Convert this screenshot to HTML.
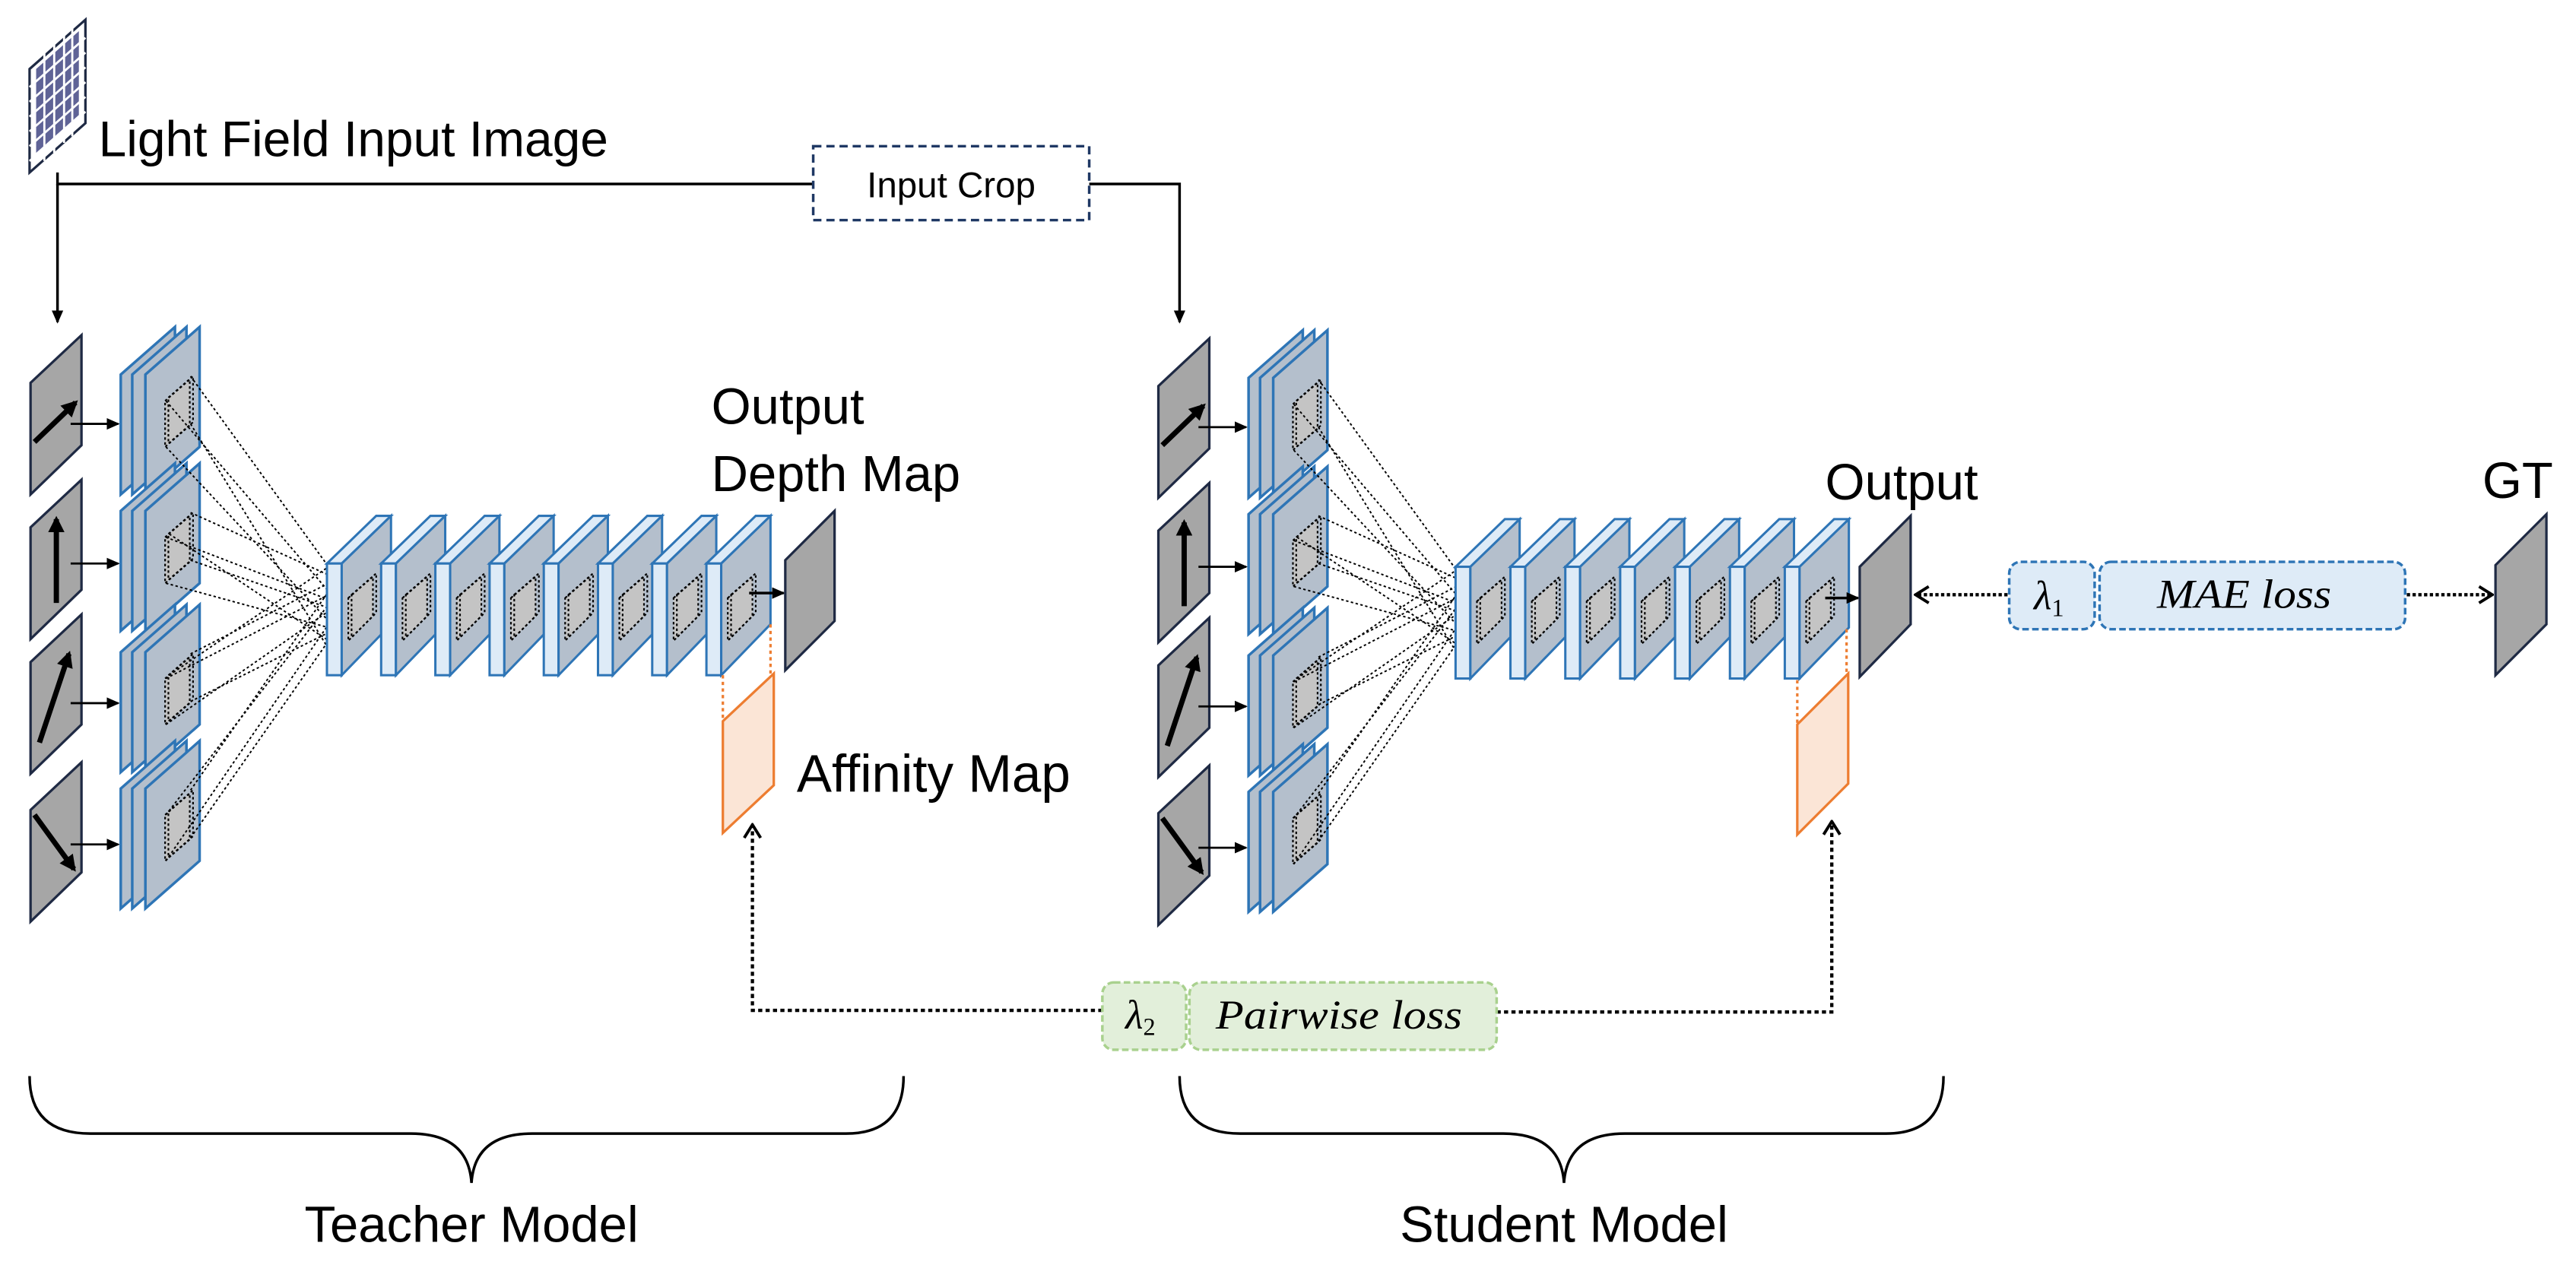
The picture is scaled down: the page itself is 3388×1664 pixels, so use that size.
<!DOCTYPE html>
<html><head><meta charset="utf-8"><style>
html,body{margin:0;padding:0;background:#fff;}
svg{display:block;}
text{font-family:"Liberation Sans",sans-serif;fill:#000;}
.ser{font-family:"Liberation Serif",serif;font-style:italic;}
</style></head><body>
<svg width="3388" height="1664" viewBox="0 0 1568 770" preserveAspectRatio="none" xmlns="http://www.w3.org/2000/svg">
<defs>
<marker id="ah" markerWidth="8" markerHeight="8" refX="7" refY="4" orient="auto" markerUnits="userSpaceOnUse"><path d="M0,0.5 L8,4 L0,7.5 Z" fill="#000"/></marker>
<marker id="bh" markerWidth="10" markerHeight="10" refX="8" refY="5" orient="auto" markerUnits="userSpaceOnUse"><path d="M0,0 L10,5 L0,10 Z" fill="#000"/></marker>
<marker id="oh" markerWidth="10" markerHeight="12" refX="9" refY="6" orient="auto" markerUnits="userSpaceOnUse"><path d="M1,1 L9,6 L1,11" fill="none" stroke="#000" stroke-width="1.8"/></marker>
<g id="tile"><polygon points="0,29 31,0 31,67 0,97" fill="#a6a6a6" stroke="#1f2a44" stroke-width="1.5"/></g>
<g id="stack">
<polygon points="0,29 33,0 33,73 0,102" fill="#b4bfcc" stroke="#2e75b6" stroke-width="1.6"/>
<polygon points="7,29 40,0 40,73 7,102" fill="#b4bfcc" stroke="#2e75b6" stroke-width="1.6"/>
<polygon points="15,29 48,0 48,73 15,102" fill="#b4bfcc" stroke="#2e75b6" stroke-width="1.6"/>
<polygon points="27,45 42,32 42,60 27,73" fill="#c4c4c4" stroke="#000" stroke-width="1" stroke-dasharray="1.5,1.5"/>
<polygon points="29,43 44,30 44,58 29,71" fill="none" stroke="#000" stroke-width="1" stroke-dasharray="1.5,1.5"/>
</g>
<g id="slab">
<polygon points="0,29 9,29 39,0 30,0" fill="#deebf7" stroke="#2e75b6" stroke-width="1.4"/>
<rect x="0" y="29" width="9" height="68" fill="#deebf7" stroke="#2e75b6" stroke-width="1.4"/>
<polygon points="9,29 39,0 39,66 9,97" fill="#b4bfcc" stroke="#2e75b6" stroke-width="1.4"/>
<polygon points="13,50 28,37 28,61 13,76" fill="#c4c4c4" stroke="#000" stroke-width="1" stroke-dasharray="1.5,1.5"/>
<polygon points="15,48 30,35 30,59 15,74" fill="none" stroke="#000" stroke-width="1" stroke-dasharray="1.5,1.5"/>
</g>
<g id="left">
<use href="#tile" x="18.6" y="204"/><use href="#tile" x="18.6" y="292"/><use href="#tile" x="18.6" y="374"/><use href="#tile" x="18.6" y="464"/>
<line x1="21" y1="269" x2="46" y2="245" stroke="#000" stroke-width="3.2" marker-end="url(#bh)"/>
<line x1="34.3" y1="367" x2="34.3" y2="316" stroke="#000" stroke-width="3.2" marker-end="url(#bh)"/>
<line x1="24" y1="452" x2="42" y2="398" stroke="#000" stroke-width="3.2" marker-end="url(#bh)"/>
<line x1="21" y1="496" x2="45" y2="529" stroke="#000" stroke-width="3.2" marker-end="url(#bh)"/>
<g stroke="#000" stroke-width="1.3" marker-end="url(#ah)">
<line x1="43" y1="258" x2="72" y2="258"/><line x1="43" y1="343" x2="72" y2="343"/><line x1="43" y1="428" x2="72" y2="428"/><line x1="43" y1="514" x2="72" y2="514"/>
</g>
<use href="#stack" x="73.5" y="199"/><use href="#stack" x="73.5" y="282"/><use href="#stack" x="73.5" y="368"/><use href="#stack" x="73.5" y="451"/>
<g stroke="#000" stroke-width="0.9" stroke-dasharray="1.5,1.5" fill="none">
<line x1="116" y1="229" x2="200" y2="345"/><line x1="101" y1="244" x2="200" y2="360"/><line x1="101" y1="272" x2="200" y2="378"/><line x1="116" y1="258" x2="200" y2="395"/>
<line x1="116" y1="312" x2="200" y2="350"/><line x1="101" y1="327" x2="200" y2="365"/><line x1="101" y1="355" x2="200" y2="382"/><line x1="116" y1="341" x2="200" y2="370"/><line x1="103" y1="325" x2="200" y2="390"/>
<line x1="116" y1="398" x2="200" y2="355"/><line x1="101" y1="413" x2="200" y2="362"/><line x1="101" y1="441" x2="200" y2="372"/><line x1="116" y1="427" x2="200" y2="385"/><line x1="103" y1="411" x2="200" y2="345"/>
<line x1="116" y1="481" x2="200" y2="360"/><line x1="101" y1="496" x2="200" y2="368"/><line x1="101" y1="524" x2="200" y2="380"/><line x1="116" y1="510" x2="200" y2="390"/>
</g>
</g>
</defs>

<!-- Light field icon -->
<polygon points="18,42 52,12 52,75 18,105" fill="#fff" stroke="#1f2a44" stroke-width="1.5"/>
<polygon points="22,42 48,19 48,70 22,93" fill="#5f6396"/>
<g stroke="#fff" stroke-width="1.3">
<line x1="27" y1="30" x2="27" y2="98"/><line x1="33" y1="25" x2="33" y2="93"/><line x1="39" y1="20" x2="39" y2="87"/><line x1="44" y1="15" x2="44" y2="83"/>
<line x1="18" y1="53" x2="52" y2="23"/><line x1="18" y1="62" x2="52" y2="32"/><line x1="18" y1="71" x2="52" y2="41"/><line x1="18" y1="80" x2="52" y2="50"/><line x1="18" y1="89" x2="52" y2="59"/><line x1="18" y1="98" x2="52" y2="68"/>
</g>
<text x="60" y="95" font-size="30.5">Light Field Input Image</text>

<!-- connectors top -->
<polyline points="35,105 35,112 495,112" fill="none" stroke="#000" stroke-width="1.6"/>
<line x1="35" y1="112" x2="35" y2="196" stroke="#000" stroke-width="1.6" marker-end="url(#ah)"/>
<polyline points="663,112 718,112 718,196" fill="none" stroke="#000" stroke-width="1.6" marker-end="url(#ah)"/>
<rect x="495" y="89" width="168" height="45" fill="#fff" stroke="#1f3864" stroke-width="1.6" stroke-dasharray="5,3"/>
<text x="579" y="120" font-size="22" text-anchor="middle">Input Crop</text>

<!-- Teacher -->
<use href="#left"/>
<use href="#slab" x="199" y="314"/><use href="#slab" x="232" y="314"/><use href="#slab" x="265" y="314"/><use href="#slab" x="298" y="314"/><use href="#slab" x="331" y="314"/><use href="#slab" x="364" y="314"/><use href="#slab" x="397" y="314"/><use href="#slab" x="430" y="314"/>
<line x1="456" y1="361" x2="477" y2="361" stroke="#000" stroke-width="1.6" marker-end="url(#ah)"/>
<polygon points="478,341 508,311 508,378 478,408" fill="#a6a6a6" stroke="#1f2a44" stroke-width="1.5"/>
<text x="433" y="258" font-size="31">Output</text>
<text x="433" y="299" font-size="31">Depth Map</text>
<g stroke="#ed7d31" stroke-width="1.5" stroke-dasharray="2,2"><line x1="440" y1="411" x2="440" y2="439"/><line x1="469" y1="380" x2="469" y2="410"/></g>
<polygon points="440,439 471,410 471,478 440,507" fill="#fbe5d6" stroke="#ed7d31" stroke-width="1.5"/>
<text x="485" y="482" font-size="32">Affinity Map</text>

<!-- Student -->
<use href="#left" transform="translate(686.5,2)"/>
<use href="#slab" x="886" y="316"/><use href="#slab" x="919.4" y="316"/><use href="#slab" x="952.8" y="316"/><use href="#slab" x="986.2" y="316"/><use href="#slab" x="1019.6" y="316"/><use href="#slab" x="1053" y="316"/><use href="#slab" x="1086.4" y="316"/>
<line x1="1111" y1="364" x2="1131" y2="364" stroke="#000" stroke-width="1.6" marker-end="url(#ah)"/>
<polygon points="1132,345 1163,314 1163,380 1132,412" fill="#a6a6a6" stroke="#1f2a44" stroke-width="1.5"/>
<text x="1111" y="304" font-size="31">Output</text>
<g stroke="#ed7d31" stroke-width="1.5" stroke-dasharray="2,2"><line x1="1094" y1="414" x2="1094" y2="441"/><line x1="1124" y1="383" x2="1124" y2="410"/></g>
<polygon points="1094,441 1125,410 1125,477 1094,508" fill="#fbe5d6" stroke="#ed7d31" stroke-width="1.5"/>

<!-- GT -->
<polygon points="1519,344 1550,313 1550,380 1519,411" fill="#a6a6a6" stroke="#1f2a44" stroke-width="1.5"/>
<text x="1511" y="303" font-size="31">GT</text>

<!-- MAE loss -->
<line x1="1222" y1="362" x2="1166" y2="362" stroke="#000" stroke-width="2" stroke-dasharray="2,1.5" marker-end="url(#oh)"/>
<line x1="1465" y1="362" x2="1517" y2="362" stroke="#000" stroke-width="2" stroke-dasharray="2,1.5" marker-end="url(#oh)"/>
<rect x="1223" y="342" width="52" height="41" rx="7" fill="#deebf7" stroke="#2e75b6" stroke-width="1.6" stroke-dasharray="4,2"/>
<rect x="1278" y="342" width="186" height="41" rx="7" fill="#deebf7" stroke="#2e75b6" stroke-width="1.6" stroke-dasharray="4,2"/>
<text x="1238" y="371" font-size="25" class="ser">λ<tspan font-size="15" dy="4" font-style="normal">1</tspan></text>
<text x="1366" y="370" font-size="25" class="ser" text-anchor="middle" textLength="106" lengthAdjust="spacingAndGlyphs">MAE loss</text>

<!-- Pairwise loss -->
<polyline points="671,615 458,615 458,502" fill="none" stroke="#000" stroke-width="2" stroke-dasharray="2.5,2" marker-end="url(#oh)"/>
<polyline points="911,616 1115,616 1115,500" fill="none" stroke="#000" stroke-width="2" stroke-dasharray="2.5,2" marker-end="url(#oh)"/>
<rect x="671" y="598" width="51" height="41" rx="7" fill="#e2efda" stroke="#a9d18e" stroke-width="1.6" stroke-dasharray="4,2"/>
<rect x="724" y="598" width="187" height="41" rx="7" fill="#e2efda" stroke="#a9d18e" stroke-width="1.6" stroke-dasharray="4,2"/>
<text x="685" y="626" font-size="25" class="ser">λ<tspan font-size="15" dy="4" font-style="normal">2</tspan></text>
<text x="815" y="626" font-size="25" class="ser" text-anchor="middle" textLength="150" lengthAdjust="spacingAndGlyphs">Pairwise loss</text>

<!-- Braces -->
<path d="M18,655 Q18,690 55,690 L250,690 Q285,690 287,720 Q289,690 324,690 L515,690 Q550,690 550,655" fill="none" stroke="#000" stroke-width="1.6"/>
<path d="M718,655 Q718,690 755,690 L915,690 Q950,690 952,720 Q954,690 989,690 L1148,690 Q1183,690 1183,655" fill="none" stroke="#000" stroke-width="1.6"/>
<text x="287" y="756" font-size="31" text-anchor="middle">Teacher Model</text>
<text x="952" y="756" font-size="31" text-anchor="middle">Student Model</text>
</svg>
</body></html>
